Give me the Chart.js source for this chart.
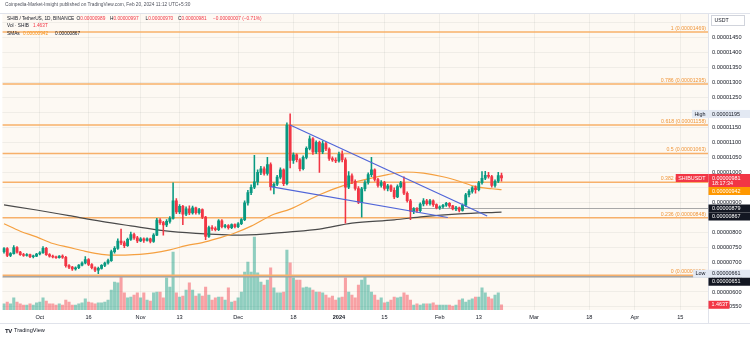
<!DOCTYPE html>
<html><head><meta charset="utf-8">
<script src="https://cdn.jsdelivr.net/npm/chart.js"></script>
<style>
html,body{margin:0;padding:0;background:#fff;width:750px;height:339px;overflow:hidden;font-family:"Liberation Sans",Arial,sans-serif;}
#wrap{position:relative;width:750px;height:339px;}
canvas{position:absolute;left:0;top:0;}
.t{position:absolute;white-space:nowrap;font-size:4.75px;line-height:1;color:#131722;}
.r{color:#f23645}.o{color:#f7931a}.g{color:#50535e}
</style></head><body><div id="wrap"><canvas id="c" width="750" height="339"></canvas>
<div class="t g" style="left:5px;top:3.3px">Coinpedia-Market-Insight published on TradingView.com, Feb 20, 2024 11:12 UTC+5:30</div>
<div class="t" style="left:7px;top:16.6px">SHIB / TetherUS, 1D, BINANCE</div>
<div class="t" style="left:76.5px;top:16.6px">O<span class="r">0.00000989</span></div>
<div class="t" style="left:110px;top:16.6px">H<span class="r">0.00000997</span></div>
<div class="t" style="left:145.5px;top:16.6px">L<span class="r">0.00000970</span></div>
<div class="t" style="left:178px;top:16.6px">C<span class="r">0.00000981</span></div>
<div class="t r" style="left:213px;top:16.6px">−0.00000007 (−0.71%)</div>
<div class="t" style="left:7px;top:24.3px">Vol · SHIB</div>
<div class="t r" style="left:33px;top:24.3px">1.463T</div>
<div class="t" style="left:7px;top:31.6px">SMAs</div>
<div class="t o" style="left:23px;top:31.6px">0.00000942</div>
<div class="t" style="left:55px;top:31.6px">0.00000867</div>
<div class="t" style="left:5px;top:328px;font-size:6px;font-weight:bold;letter-spacing:-0.3px">TV</div>
<div class="t" style="left:14px;top:328.3px;font-size:5.6px;color:#131722">TradingView</div>
</div>
<script>
// ---------- categories (daily) ----------
const START_DAY = Date.UTC(2023, 8, 20);
const N_DAYS = 217;
const days = Array.from({length: N_DAYS}, (_, i) => new Date(START_DAY + i * 86400000).toISOString().slice(0, 10));

// ---------- tick labels ----------
const xTickDates  = ["2023-10-01","2023-10-16","2023-11-01","2023-11-13","2023-12-01","2023-12-18","2024-01-01","2024-01-15","2024-02-01","2024-02-13","2024-03-01","2024-03-18","2024-04-01","2024-04-15"];
const xTickTexts  = ["Oct","16","Nov","13","Dec","18","2024","15","Feb","13","Mar","18","Apr","15"];
const yTickValues = [550,600,650,700,750,800,850,900,950,1000,1050,1100,1150,1200,1250,1300,1350,1400,1450,1500]; // x 1e-8 USDT

// ---------- OHLC (x 1e-8 USDT) ----------
const opens = [
735,745,722,728,748,733,725,722,725,718,
720,727,731,746,725,720,717,715,720,716,
688,683,677,681,690,697,708,692,681,673,
679,689,697,705,735,746,770,764,755,776,
792,781,771,778,772,778,769,790,840,832,
824,836,846,905,868,886,860,878,864,881,
865,875,850,786,815,812,808,838,818,822,
815,825,818,828,842,898,932,950,968,1000,
1012,996,1026,952,960,984,1008,962,1158,1040,
1058,1042,1012,1050,1080,1112,1068,1100,1068,1096,
1078,1046,1041,1038,1060,1042,950,988,970,946,
900,945,966,992,1008,976,956,966,946,955,
940,918,952,965,930,905,870,878,872,894,
905,895,905,892,882,885,890,896,888,878,
881,873,890,925,936,948,942,965,980,990,
986,956,970,989];
const highs = [
748,748,732,755,752,736,729,728,727,723,
729,735,752,749,728,723,720,722,724,719,
692,686,684,692,701,718,712,695,684,683,
692,700,710,740,752,778,810,770,780,800,
797,786,782,781,781,780,795,846,845,836,
842,852,965,912,892,890,885,888,887,884,
880,878,853,820,822,818,842,842,826,825,
828,828,832,845,905,940,958,1057,1008,1020,
1018,1050,1032,965,990,1015,1012,1165,1195,1065,
1062,1046,1055,1085,1122,1116,1105,1104,1105,1100,
1082,1052,1048,1068,1072,1048,1002,995,975,952,
950,972,998,1050,1012,980,972,970,960,958,
948,958,970,985,935,910,882,882,898,912,
910,910,908,895,888,893,900,899,890,886,
884,895,930,942,952,955,970,1002,1003,1000,
990,975,1000,997];
const lows = [
730,718,718,726,730,722,719,720,715,714,
718,724,729,722,716,714,712,713,712,683,
678,672,673,678,687,694,688,677,668,661,
676,685,693,702,730,742,758,748,752,772,
776,765,768,766,770,764,766,788,826,790,
818,830,843,862,862,825,855,858,860,860,
860,845,775,782,806,804,805,814,814,810,
812,814,815,825,838,890,925,945,958,992,
990,990,940,928,955,978,955,958,1015,1030,
1035,1005,1008,1045,1075,1060,1062,1000,1062,1072,
1040,1036,1032,1034,1035,830,945,962,940,895,
850,938,960,985,970,950,950,940,938,935,
912,915,948,925,900,842,862,866,868,888,
890,890,886,878,876,880,886,883,874,872,
868,870,886,918,930,930,938,960,975,980,
950,950,965,970];
const closes = [
745,722,728,748,733,725,722,725,718,720,
727,731,746,725,720,717,715,720,716,688,
683,677,681,690,697,708,692,681,673,679,
689,697,705,735,746,770,764,755,776,792,
781,771,778,772,778,769,790,840,832,824,
836,846,905,868,886,860,878,864,881,865,
875,850,786,815,812,808,838,818,822,815,
825,818,828,842,898,932,950,968,1000,1012,
996,1026,952,960,984,1008,962,1158,1040,1058,
1042,1012,1050,1080,1112,1068,1100,1068,1096,1078,
1046,1041,1038,1060,1042,950,988,970,946,900,
945,966,992,1008,976,956,966,946,955,940,
918,952,965,930,905,870,878,872,894,905,
895,905,892,882,885,890,896,888,878,881,
873,890,925,936,948,942,965,980,990,986,
956,970,989,981];
// ---------- volume (trillion SHIB) ----------
const volumes = [
1.7,2.2,1.7,3.4,2.2,1.7,1.4,1.4,1.7,1.4,
2.0,2.2,3.4,2.5,1.7,1.7,1.4,1.7,1.4,2.8,
2.2,1.4,1.4,1.7,2.0,3.1,2.2,2.0,1.7,2.0,
2.0,2.2,2.8,5.6,7.8,7.6,9.2,4.8,3.4,3.6,
4.2,4.8,3.4,4.8,2.8,2.5,4.8,5.0,5.0,3.4,
9.0,6.4,16.2,4.8,3.6,3.9,5.6,7.6,5.6,3.9,
4.5,3.9,6.4,4.2,2.8,3.4,3.6,3.6,2.8,6.2,
2.2,2.5,3.4,5.0,10.6,13.4,10.6,20.4,10.4,7.8,
7.0,8.4,11.8,6.2,4.8,4.8,5.0,16.8,13.2,9.0,
8.4,8.4,6.2,6.4,6.2,5.6,5.0,5.0,4.8,4.2,
3.4,3.9,2.8,3.4,3.6,9.0,5.0,4.2,3.4,7.0,
8.4,9.2,7.0,5.0,4.2,2.8,3.4,2.0,2.2,2.8,
3.6,3.4,3.6,4.8,4.2,2.8,1.4,1.7,1.4,1.7,
1.7,1.7,2.0,1.4,1.4,1.4,1.4,1.4,1.1,1.4,
2.8,3.1,2.2,2.8,3.1,3.6,3.6,6.2,4.8,3.6,
3.1,4.2,4.8,1.463];

// ---------- moving averages ----------
const sma50Day   = [0,5,10,15,20,25,30,35,40,46,51,56,61,66,71,76,83,88,97,105,112,118,123,129,135,140,145,150,153];
const sma50Val   = [828,803,784,762,749,736,726,723,725,731,741,755,765,780,797,820,860,877,925,958,978,992,1001,997,985,970,952,945,942];
const sma200Day  = [0,10,20,30,39,49,59,73,88,97,107,120,129,140,153];
const sma200Val  = [891,874,855,836,821,805,796,790,801,810,830,841,852,861,867];

// ---------- drawings ----------
const fibRatios = ["1","0.786","0.618","0.5","0.382","0.236","0"];
const fibLevels = [1469,1295,1158,1063,967,848,656];
const upperTrendDay = [88, 148.6], upperTrendVal = [1158, 854];
const lowerTrendDay = [82, 136.5], lowerTrendVal = [952, 849];
const rayLevel = 879, rayStartDay = 125;
const supportLevel = 651;

// ---------- price tags ----------
const tagValues = [1195, 981, 942, 879, 867, 661, 651];
const tagBadges = ["High", "SHIBUSDT", "", "", "", "Low", ""];
const tagExtra  = ["", "18:17:34", "", "", "", "", ""];
const tagKinds  = ["light", "red", "orange", "black", "black", "light", "black"];
const lastVolume = 1.463;

const FONT = '"Liberation Sans", Arial, sans-serif';
const UP = '#089981', DN = '#f23645';
const FIB_COLOR = '#f7b06a';
const Y_MIN = 539.8, Y_MAX = 1532.4, YV_MAX = 83.2;

const tickMap = {};
xTickDates.forEach((d, k) => tickMap[d] = xTickTexts[k]);
const isUp = closes.map((c, i) => c >= opens[i]);
const pts = (xs, ys) => xs.map((x, k) => ({x, y: ys[k]}));
const fmt = v => (v * 1e-8).toFixed(8);

const tagStyle = {
  light: {bg: '#e3e9f3', fg: '#131722'},
  red: {bg: '#f23645', fg: '#ffffff'},
  orange: {bg: '#ff9800', fg: '#ffffff'},
  black: {bg: '#131722', fg: '#ffffff'}
};

const overlay = {
  id: 'overlay',
  beforeDraw(chart) {
    const {ctx, chartArea: a} = chart;
    ctx.save();
    ctx.fillStyle = '#ffffff';
    ctx.fillRect(0, 0, chart.width, chart.height);
    ctx.fillStyle = '#fdf9f3';
    ctx.fillRect(a.left, a.top, a.right - a.left, a.bottom - a.top);
    ctx.restore();
  },
  afterDatasetsDraw(chart) {
    const {ctx, chartArea: a, scales} = chart;
    ctx.save();
    ctx.font = '5.2px ' + FONT;
    ctx.textAlign = 'right';
    ctx.textBaseline = 'alphabetic';
    ctx.fillStyle = '#f0963a';
    fibLevels.forEach((l, k) => {
      const y = scales.y.getPixelForValue(l);
      ctx.fillText(fibRatios[k] + ' (' + fmt(l) + ')', a.right - 2, y - 2.2);
    });
    ctx.restore();
  },
  afterDraw(chart) {
    const {ctx, chartArea: a, scales} = chart;
    ctx.save();
    ctx.strokeStyle = '#e0e3eb';
    ctx.lineWidth = 1;
    ctx.beginPath();
    ctx.moveTo(0, 13.5); ctx.lineTo(750, 13.5);
    ctx.moveTo(0, 323.5); ctx.lineTo(750, 323.5);
    ctx.moveTo(a.right + 0.5, 13); ctx.lineTo(a.right + 0.5, 323);
    ctx.stroke();
    ctx.fillStyle = '#ffffff';
    ctx.fillRect(711.5, 15.5, 33, 10);
    ctx.strokeStyle = '#d1d4dc';
    ctx.strokeRect(711.5, 15.5, 33, 10);
    ctx.font = '5.2px ' + FONT;
    ctx.fillStyle = '#131722';
    ctx.textAlign = 'left';
    ctx.textBaseline = 'middle';
    ctx.fillText('USDT', 714.5, 20.7);
    ctx.font = '5.4px ' + FONT;
    let prevBottom = -1e9;
    tagValues.forEach((v, k) => {
      const yc = scales.y.getPixelForValue(v);
      const nLines = tagExtra[k] ? 2 : 1;
      const h = 8 + (nLines - 1) * 5;
      let top = yc - 4;
      if (top < prevBottom) top = prevBottom;
      prevBottom = top + h;
      const st = tagStyle[tagKinds[k]];
      ctx.fillStyle = st.bg;
      ctx.fillRect(a.right + 0.5, top, 750 - a.right, h);
      ctx.fillStyle = st.fg;
      ctx.textAlign = 'left';
      ctx.fillText(fmt(v), 712, top + 4.2);
      if (tagExtra[k]) ctx.fillText(tagExtra[k], 712, top + 9.2);
      if (tagBadges[k]) {
        const w = ctx.measureText(tagBadges[k]).width + 5;
        ctx.fillStyle = st.bg;
        ctx.fillRect(a.right - w, top, w + 0.5, 8);
        ctx.fillStyle = st.fg;
        ctx.textAlign = 'center';
        ctx.fillText(tagBadges[k], a.right - w / 2, top + 4.2);
      }
    });
    const yv = scales.yv.getPixelForValue(lastVolume);
    ctx.fillStyle = '#f23645';
    ctx.fillRect(a.right + 0.5, yv - 4, 21, 8);
    ctx.fillStyle = '#ffffff';
    ctx.textAlign = 'left';
    ctx.fillText(lastVolume.toFixed(3) + 'T', 711.5, yv + 0.2);
    ctx.restore();
  }
};

const lineBase = {type: 'line', xAxisID: 'xl', yAxisID: 'y', pointRadius: 0, pointHoverRadius: 0, fill: false};

const datasets = [
  {type: 'bar', data: volumes, xAxisID: 'x', yAxisID: 'yv', grouped: false, barThickness: 2.4,
   backgroundColor: isUp.map(u => u ? 'rgba(8,153,129,0.45)' : 'rgba(242,54,69,0.45)'), order: 30},
  ...fibLevels.map(l => Object.assign({}, lineBase, {data: pts([-0.5, N_DAYS - 0.5], [l, l]), borderColor: FIB_COLOR, borderWidth: 1.6, order: 25})),
  Object.assign({}, lineBase, {data: pts([-0.5, N_DAYS - 0.5], [supportLevel, supportLevel]), borderColor: '#a5a5a5', borderWidth: 1.5, order: 24}),
  Object.assign({}, lineBase, {data: pts([rayStartDay, N_DAYS - 0.5], [rayLevel, rayLevel]), borderColor: '#a8a8a8', borderWidth: 1, order: 24}),
  Object.assign({}, lineBase, {data: pts(sma200Day, sma200Val), borderColor: '#4a4a4a', borderWidth: 1.2, cubicInterpolationMode: 'monotone', order: 20}),
  Object.assign({}, lineBase, {data: pts(sma50Day, sma50Val), borderColor: '#f5a040', borderWidth: 1.2, cubicInterpolationMode: 'monotone', order: 19}),
  {type: 'bar', data: lows.map((l, i) => [l, highs[i]]), xAxisID: 'x', yAxisID: 'y', grouped: false, barThickness: 0.9,
   backgroundColor: isUp.map(u => u ? UP : DN), order: 10},
  {type: 'bar', data: opens.map((o, i) => [o, closes[i]]), xAxisID: 'x', yAxisID: 'y', grouped: false, barThickness: 2.2, minBarLength: 0.8,
   backgroundColor: isUp.map(u => u ? UP : DN), order: 9},
  Object.assign({}, lineBase, {data: pts(upperTrendDay, upperTrendVal), borderColor: '#5065d8', borderWidth: 1.2, order: 2}),
  Object.assign({}, lineBase, {data: pts(lowerTrendDay, lowerTrendVal), borderColor: '#5065d8', borderWidth: 1.2, order: 2})
];

new Chart(document.getElementById('c'), {
  type: 'bar',
  data: {labels: days, datasets},
  plugins: [overlay],
  options: {
    responsive: false,
    devicePixelRatio: 1,
    animation: false,
    events: [],
    layout: {padding: {top: 13, left: 0, right: 0, bottom: 0}},
    plugins: {legend: {display: false}, tooltip: {enabled: false}},
    scales: {
      x: {
        type: 'category', offset: true,
        grid: {offset: false, drawTicks: false,
               color: c => tickMap[days[c.index]] ? 'rgba(42,46,57,0.06)' : 'rgba(0,0,0,0)'},
        border: {display: false},
        ticks: {autoSkip: false, maxRotation: 0, minRotation: 0, padding: 4, color: '#131722',
                font: c => ({family: FONT, size: 5.6, weight: tickMap[days[c.index]] === '2024' ? 'bold' : 'normal'}),
                callback: (v, i) => tickMap[days[i]] || ''},
        afterFit: s => { s.height = 29; }
      },
      xl: {type: 'linear', display: false, offset: false, grid: {offset: false}, bounds: 'data', min: -0.5, max: N_DAYS - 0.5},
      y: {
        position: 'right', min: Y_MIN, max: Y_MAX,
        afterBuildTicks: s => { s.ticks = yTickValues.map(v => ({value: v})); },
        afterFit: s => { s.width = 42; },
        grid: {color: 'rgba(42,46,57,0.06)', drawTicks: false},
        border: {display: false},
        ticks: {padding: 4, color: '#131722', font: {family: FONT, size: 5.6}, callback: v => fmt(v)}
      },
      yv: {display: false, min: 0, max: YV_MAX}
    }
  }
});
</script>
</body></html>
